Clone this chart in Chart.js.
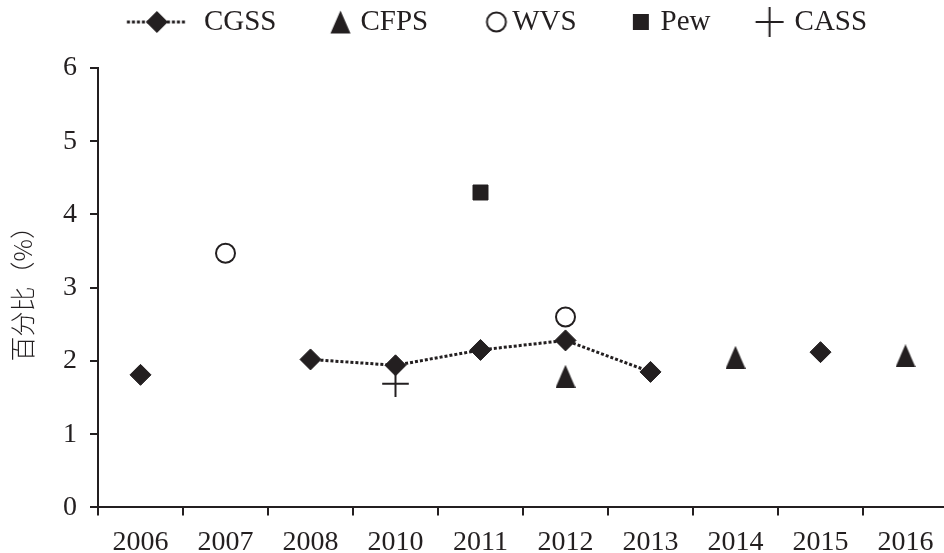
<!DOCTYPE html>
<html><head><meta charset="utf-8">
<script src="https://cdn.jsdelivr.net/npm/chart.js@4.4.0/dist/chart.umd.min.js"></script>
<style>
html,body{margin:0;padding:0;overflow:hidden;background:#fff;width:944px;height:553px;}
#wrap{position:absolute;left:0;top:0;width:948px;height:569px;}
</style></head><body>
<div id="wrap"><canvas id="c"></canvas></div>
<script>
// ---- data ----
const categories = ['2006','2007','2008','2010','2011','2012','2013','2014','2015','2016'];
const cgss = [1.81, null, 2.02, 1.94, 2.15, 2.28, 1.85, null, 2.12, null];
const cfps = [null, null, null, null, null, 1.79, null, 2.05, null, 2.07];
const wvs  = [null, 3.47, null, null, null, 2.60, null, null, null, null];
const pew  = [null, null, null, null, 4.30, null, null, null, null, null];
const cass = [null, null, null, 1.69, null, null, null, null, null, null];
const seriesNames = ['CGSS','CFPS','WVS','Pew','CASS'];
const yTicks = [0, 1, 2, 3, 4, 5, 6];
const yTitle = '百分比（%）';

// ---- style ----
const INK = '#231f20';
const SERIF = '"Liberation Serif", "Times New Roman", serif';
Chart.defaults.font.family = SERIF;
Chart.defaults.color = INK;

function mkCanvas(w, h) { const c = document.createElement('canvas'); c.width = w; c.height = h; return c; }
function drawTri(g, cx, cy, w, h) {
  g.fillStyle = INK; g.beginPath();
  g.moveTo(cx - w / 2, cy + h / 2); g.lineTo(cx, cy - h / 2); g.lineTo(cx + w / 2, cy + h / 2);
  g.closePath(); g.fill();
}
const triImg = (() => { const c = mkCanvas(20, 23); drawTri(c.getContext('2d'), 10, 11.5, 20, 23); return c; })();

function legendImg(kind, off) {
  const c = mkCanvas(140, 36), g = c.getContext('2d');
  const cx = 70 + off, cy = 18;
  g.fillStyle = INK; g.strokeStyle = INK;
  if (kind === 'cgss') {
    g.lineWidth = 3; g.setLineDash([3, 2]);
    g.beginPath(); g.moveTo(cx - 30, cy); g.lineTo(cx + 30, cy); g.stroke();
    g.setLineDash([]);
    g.beginPath(); g.moveTo(cx - 11, cy); g.lineTo(cx, cy - 11); g.lineTo(cx + 11, cy); g.lineTo(cx, cy + 11); g.closePath(); g.fill();
  } else if (kind === 'tri') {
    drawTri(g, cx, cy, 20, 23);
  } else if (kind === 'circle') {
    g.fillStyle = '#fff'; g.lineWidth = 2;
    g.beginPath(); g.arc(cx, cy, 9.5, 0, Math.PI * 2); g.fill(); g.stroke();
  } else if (kind === 'square') {
    g.fillRect(cx - 8, cy - 8, 16, 16);
  } else if (kind === 'cross') {
    g.lineWidth = 2;
    g.beginPath(); g.moveTo(cx - 14, cy); g.lineTo(cx + 14, cy); g.moveTo(cx, cy - 15); g.lineTo(cx, cy + 15); g.stroke();
  }
  return c;
}
const legendImgs = [legendImg('cgss', 0.75), legendImg('tri', 27.75), legendImg('circle', 32), legendImg('square', 28), legendImg('cross', 22.75)];

const LEGEND_SHIFT = 21;
const legendShift = { id: 'legendShift', afterLayout(chart) { const l = chart.legend; if (l) { l.left += LEGEND_SHIFT; l.right += LEGEND_SHIFT; } } };

new Chart(document.getElementById('c'), {
  type: 'line',
  data: {
    labels: categories,
    datasets: [
      { label: seriesNames[0], data: cgss, showLine: true, spanGaps: false, borderColor: INK, borderWidth: 3, borderDash: [3, 2], tension: 0,
        pointStyle: 'rectRot', pointRadius: 10.5, pointBorderWidth: 1, pointBackgroundColor: INK, pointBorderColor: INK },
      { label: seriesNames[1], data: cfps, showLine: false, pointStyle: triImg, pointRadius: 12, pointBackgroundColor: INK, pointBorderColor: INK },
      { label: seriesNames[2], data: wvs, showLine: false, pointStyle: 'circle', pointRadius: 9.5, pointBorderWidth: 2, pointBackgroundColor: '#fff', pointBorderColor: INK },
      { label: seriesNames[3], data: pew, showLine: false, pointStyle: 'rect', pointRadius: 10.6, pointBorderWidth: 1, pointBackgroundColor: INK, pointBorderColor: INK },
      { label: seriesNames[4], data: cass, showLine: false, pointStyle: 'cross', pointRadius: 13.3, pointBorderWidth: 2, pointBackgroundColor: INK, pointBorderColor: INK }
    ]
  },
  options: {
    responsive: true, maintainAspectRatio: false, animation: false, events: [],
    layout: { autoPadding: false, padding: { top: 4.5, left: 0, right: 0, bottom: 0 } },
    plugins: {
      tooltip: { enabled: false },
      title: { display: true, text: '', weight: 100, font: { size: 10, lineHeight: 1 }, padding: { top: 6, bottom: 5.5 } },
      legend: {
        display: true, position: 'top', align: 'center',
        labels: {
          usePointStyle: true, pointStyleWidth: 66.5, padding: 3,
          font: { family: SERIF, size: 29 }, color: INK,
          generateLabels: chart => chart.data.datasets.map((ds, i) => ({
            text: ds.label, fillStyle: INK, strokeStyle: INK, lineWidth: 0, pointStyle: legendImgs[i],
            hidden: false, datasetIndex: i, fontColor: INK
          }))
        }
      }
    },
    scales: {
      x: {
        type: 'category', offset: true,
        grid: { offset: true, drawOnChartArea: false, drawTicks: true, tickLength: 8, color: INK, lineWidth: 2 },
        border: { display: true, color: INK, width: 2 },
        ticks: { font: { family: SERIF, size: 28, lineHeight: 1.2 }, color: INK, padding: 10, maxRotation: 0, autoSkip: false }
      },
      y: {
        type: 'linear', min: 0, max: 6,
        afterBuildTicks: s => { s.ticks = yTicks.map(v => ({ value: v })); },
        grid: { drawOnChartArea: false, drawTicks: true, tickLength: 8, color: INK, lineWidth: 2 },
        border: { display: true, color: INK, width: 2 },
        ticks: { font: { family: SERIF, size: 28, lineHeight: 1.2 }, color: INK, padding: 13 },
        title: { display: true, text: yTitle, color: INK, font: { family: '"Noto Sans CJK SC"', size: 25, lineHeight: 1.2, weight: 300 }, padding: { top: 7.5, bottom: 12.5 } }
      }
    }
  },
  plugins: [legendShift]
});
</script>
</body></html>
